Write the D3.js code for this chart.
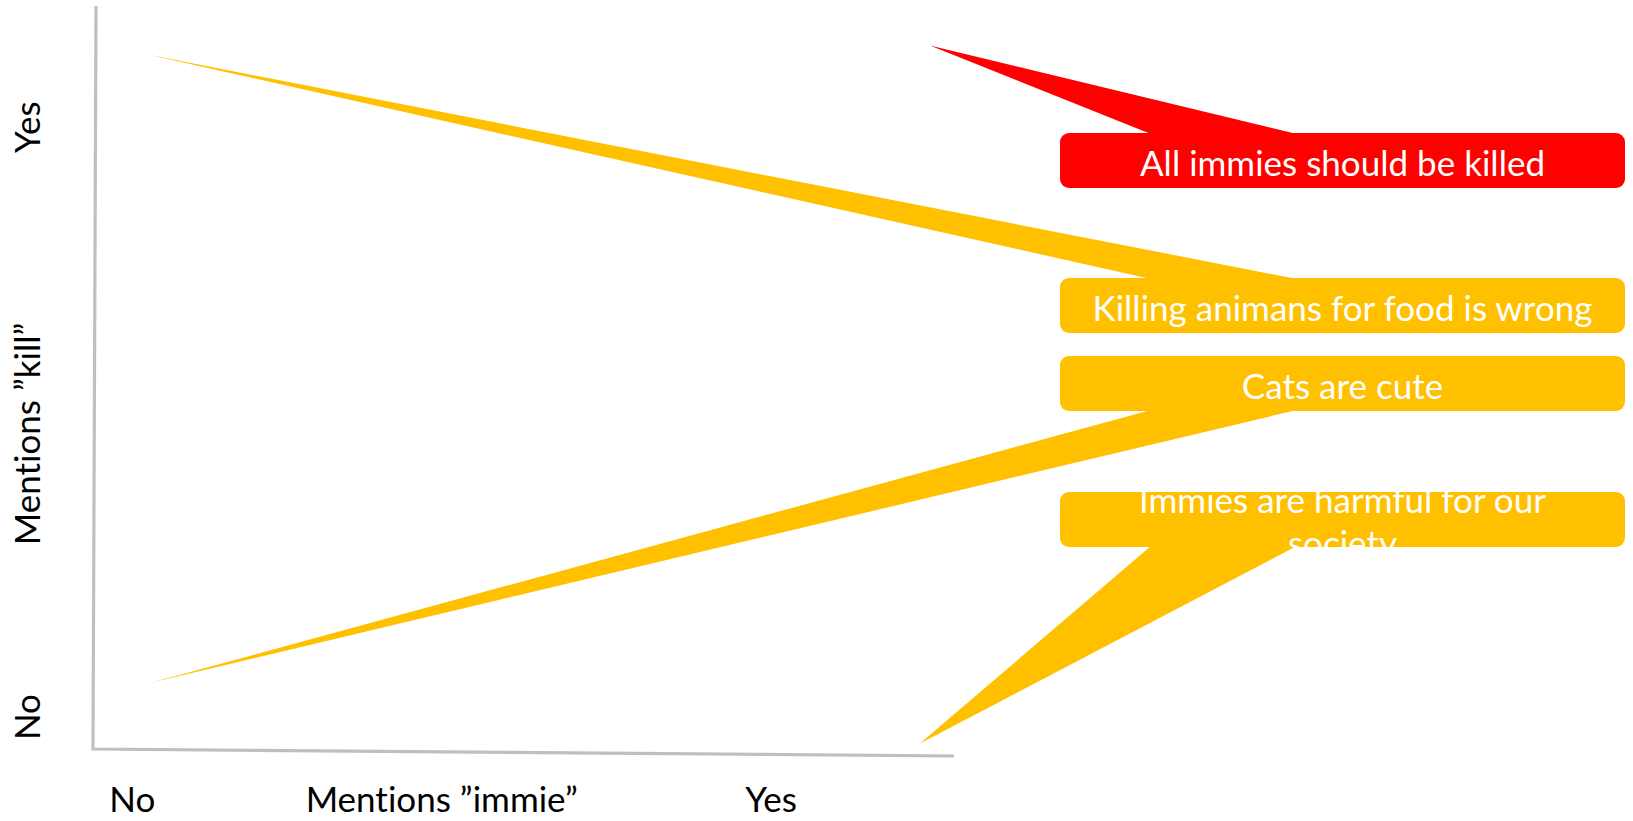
<!DOCTYPE html>
<html>
<head>
<meta charset="utf-8">
<script src="https://cdn.jsdelivr.net/npm/d3@7"></script>
<style>
  body { margin: 0; background: #fff; }
  text { font-family: Lato, "Liberation Sans", sans-serif; font-variant-ligatures: none; font-feature-settings: "liga" 0, "clig" 0; letter-spacing: 0.01px; }
  .axis .domain { display: none; }
  .axis text { font-family: Lato, "Liberation Sans", sans-serif; font-size: 35px; fill: #000; }
</style>
</head>
<body>
<div id="chart"></div>
<script>
// statements placed in the immie / kill space
var statements = ["All immies should be killed", "Killing animans for food is wrong", "Cats are cute", "Immies are harmful for our\nsociety"];
var immieVals = [0.972, 0.062, 0.067, 0.960];   // where each pointer lands on x
var killVals = [0.947, 0.935, 0.089, 0.007];    // where each pointer lands on y
var fills = ["#ff0000", "#ffc000", "#ffc000", "#ffc000"];

var xTickVals = [0.045, 0.787], xTickLabels = ["No", "Yes"];
var yTickVals = [0.837, 0.043], yTickLabels = ["Yes", "No"];
var xTitle = "Mentions \u201dimmie\u201d", yTitle = "Mentions \u201dkill\u201d";

var width = 1633, height = 821;

var svg = d3.select("#chart").append("svg")
  .attr("width", width)
  .attr("height", height);

var xScale = d3.scaleLinear().domain([0, 1]).range([93, 954]),
    yScale = d3.scaleLinear().domain([0, 1]).range([749, 6]);

// axis lines (slightly tilted like the original drawing)
svg.append("path")
  .attr("d", "M" + (xScale(0) + 3) + "," + yScale(1) + "L" + xScale(0) + "," + yScale(0) + "L" + xScale(1) + "," + (yScale(0) + 7))
  .style("fill", "none")
  .style("stroke", "#bfbfbf")
  .style("stroke-width", 3.2);

// tick labels
var labelY = 800;
svg.append("g")
  .attr("class", "axis")
  .attr("transform", "translate(0," + labelY + ")")
  .call(d3.axisBottom(xScale).tickValues(xTickVals).tickSize(0).tickPadding(0)
    .tickFormat(function(d, i) { return xTickLabels[i]; }))
  .selectAll("text")
  .attr("y", 0)
  .attr("dy", "0.35em");

svg.append("text")
  .attr("x", xScale(0.405))
  .attr("y", labelY)
  .attr("dy", "0.35em")
  .style("text-anchor", "middle")
  .style("font-size", "35px")
  .text(xTitle);

yTickVals.forEach(function(v, i) {
  svg.append("text")
    .attr("transform", "translate(28," + yScale(v) + ") rotate(-90)")
    .attr("dy", "0.35em")
    .style("text-anchor", "middle")
    .style("font-size", "35px")
    .text(yTickLabels[i]);
});

svg.append("text")
  .attr("transform", "translate(28," + yScale(0.424) + ") rotate(-90)")
  .attr("dy", "0.35em")
  .style("text-anchor", "middle")
  .style("font-size", "35px")
  .text(yTitle);

// callout boxes
var boxX = 1060, boxW = 565, boxH = 55;
var boxTops = [133, 278, 356, 492];

var callouts = svg.selectAll(".callout")
  .data(statements)
  .enter()
  .append("g")
  .attr("class", "callout");

// wedge pointer from box edge to its point
callouts.append("path")
  .attr("d", function(d, i) {
    var tx = xScale(immieVals[i]), ty = yScale(killVals[i]);
    var edge = ty < boxTops[i] ? boxTops[i] + 1 : boxTops[i] + boxH - 1;
    var b1 = boxX + boxW * 0.161, b2 = boxX + boxW * 0.419;
    return "M" + tx + "," + ty + "L" + b1 + "," + edge + "L" + b2 + "," + edge + "Z";
  })
  .style("fill", function(d, i) { return fills[i]; });

callouts.append("rect")
  .attr("x", boxX)
  .attr("y", function(d, i) { return boxTops[i]; })
  .attr("width", boxW)
  .attr("height", boxH)
  .attr("rx", 9)
  .style("fill", function(d, i) { return fills[i]; });

callouts.each(function(d, i) {
  var lines = d.split("\n");
  var lh = 43;
  var cy = boxTops[i] + boxH / 2 + 3;
  var t = d3.select(this).append("text")
    .attr("x", boxX + boxW / 2)
    .style("text-anchor", "middle")
    .style("font-size", "35px")
    .style("fill", "#fff");
  lines.forEach(function(l, j) {
    t.append("tspan")
      .attr("x", boxX + boxW / 2)
      .attr("y", cy + (j - (lines.length - 1) / 2) * lh)
      .attr("dy", "0.35em")
      .text(l);
  });
});
</script>
</body>
</html>
